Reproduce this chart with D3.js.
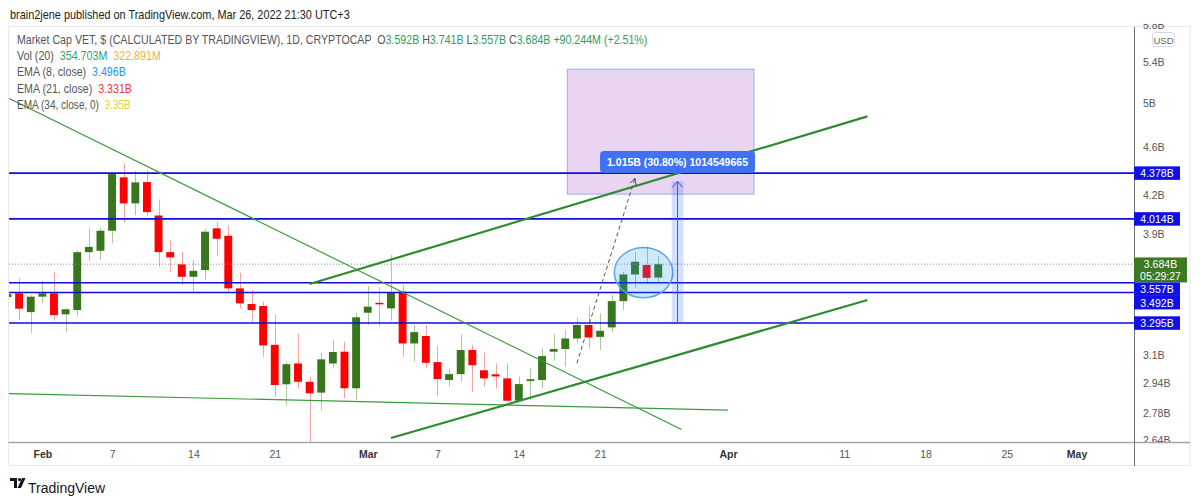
<!DOCTYPE html>
<html>
<head>
<meta charset="utf-8">
<script src="https://cdn.jsdelivr.net/npm/d3@7"></script>
<style>
  body { margin: 0; background: #fff; }
  svg { display: block; font-family: "Liberation Sans", "Noto Sans", sans-serif; }
  .legend text { white-space: pre; }
</style>
</head>
<body>
<div id="chart"></div>
<script>
// daily candles, Jan 29 .. Mar 26 2022 (values in billions)
const firstDay = "2022-01-29";
const opens  = [3.462, 3.486, 3.364, 3.464, 3.486, 3.350, 3.377, 3.769, 3.779, 3.925,
                4.343, 4.134, 4.304, 4.040, 3.769, 3.683, 3.597, 3.643, 3.943, 3.888,
                3.519, 3.416, 3.403, 3.162, 2.934, 3.052, 2.948, 2.888, 3.052, 3.121,
                2.912, 3.360, 3.424, 3.388, 3.497, 3.170, 3.215, 3.060, 2.958, 2.991,
                3.131, 3.013, 2.990, 2.967, 2.844, 2.952, 2.958, 3.121, 3.137, 3.200,
                3.283, 3.210, 3.268, 3.435, 3.613, 3.678, 3.592];
const highs  = [3.500, 3.588, 3.475, 3.570, 3.631, 3.390, 3.780, 3.943, 3.950, 4.378,
                4.459, 4.395, 4.403, 4.165, 3.856, 3.771, 3.713, 3.938, 3.992, 3.967,
                3.624, 3.508, 3.431, 3.345, 3.062, 3.231, 2.976, 3.115, 3.190, 3.180,
                3.360, 3.534, 3.525, 3.748, 3.541, 3.283, 3.283, 3.156, 3.023, 3.224,
                3.160, 3.115, 3.052, 3.052, 2.976, 3.023, 3.140, 3.226, 3.251, 3.331,
                3.403, 3.356, 3.475, 3.631, 3.771, 3.812, 3.741];
const lows   = [3.440, 3.314, 3.233, 3.420, 3.310, 3.241, 3.341, 3.706, 3.713, 3.832,
                3.984, 4.043, 4.035, 3.666, 3.631, 3.541, 3.490, 3.574, 3.741, 3.490,
                3.388, 3.303, 3.091, 2.866, 2.820, 2.912, 2.624, 2.794, 3.023, 2.857,
                2.848, 3.283, 3.276, 3.310, 3.091, 3.062, 3.023, 2.869, 2.921, 2.948,
                2.893, 2.921, 2.912, 2.838, 2.838, 2.848, 2.912, 3.068, 3.033, 3.170,
                3.140, 3.131, 3.241, 3.377, 3.519, 3.547, 3.557];
const closes = [3.481, 3.386, 3.464, 3.486, 3.345, 3.382, 3.769, 3.807, 3.925, 4.370,
                4.134, 4.302, 4.066, 3.769, 3.732, 3.597, 3.638, 3.918, 3.866, 3.519,
                3.420, 3.377, 3.158, 2.930, 3.048, 2.948, 2.884, 3.076, 3.119, 2.912,
                3.331, 3.399, 3.414, 3.490, 3.170, 3.239, 3.056, 2.963, 2.991, 3.131,
                3.042, 2.967, 2.978, 2.844, 2.935, 2.962, 3.095, 3.137, 3.200, 3.283,
                3.206, 3.247, 3.435, 3.613, 3.701, 3.590, 3.684];

// horizontal levels drawn on the chart
const levels = [4.378, 4.014, 3.557, 3.492, 3.295];
const lastPrice = 3.684;
const countdown = "05:29:27";

// trend lines [date, value] -> [date, value]
const trendFrom = [["2022-01-28", 5.106], ["2022-01-29", 2.883], ["2022-02-24", 3.548], ["2022-03-03", 2.650]];
const trendTo   = [["2022-03-28", 2.693], ["2022-04-01", 2.794], ["2022-04-13", 4.875], ["2022-04-13", 3.442]];

// drawings
const targetBox   = [["2022-03-18T04:20Z", 5.332], ["2022-04-03T05:45Z", 4.207]];
const ellipseBox  = [["2022-03-22T05:20Z", 3.803], ["2022-03-27T06:00Z", 3.457]];
const rangeBox    = [["2022-03-27T03:50Z", 3.295], ["2022-03-28T03:50Z", 4.310]];
const rangeLabel  = "1.015B (30.80%) 1014549665";
const projection  = [["2022-03-19", 3.054], ["2022-03-24", 4.337]];

// axes
const priceTicks = [5.8, 5.4, 5, 4.6, 4.2, 3.9, 3.1, 2.94, 2.78, 2.64];
const dateTicks  = ["2022-02-01", "2022-02-07", "2022-02-14", "2022-02-21", "2022-03-01", "2022-03-07",
                    "2022-03-14", "2022-03-21", "2022-04-01", "2022-04-11", "2022-04-18", "2022-04-25", "2022-05-01"];
const dateLabels = ["Feb", "7", "14", "21", "Mar", "7", "14", "21", "Apr", "11", "18", "25", "May"];

// legend text
const headerText = "brain2jene published on TradingView.com, Mar 26, 2022 21:30 UTC+3";
const titleText  = "Market Cap VET, $ (CALCULATED BY TRADINGVIEW), 1D, CRYPTOCAP";
const ohlcText   = ["3.592B", "3.741B", "3.557B", "3.684B"];
const changeText = "+90.244M (+2.51%)";
const volText    = ["354.703M", "322.891M"];
const emaNames   = ["EMA (8, close)", "EMA (21, close)", "EMA (34, close, 0)"];
const emaValues  = ["3.496B", "3.331B", "3.35B"];

const width = 1200, height = 499;
const plot = { left: 9, right: 1134, top: 27, bottom: 442 };

const up = "#38761d", down = "#ff0000";
const levelColor = "#0c0ce0";

const days = d3.utcDay.range(new Date(firstDay), d3.utcDay.offset(new Date(firstDay), opens.length));
const candles = days.map((d, i) => ({ date: d, o: opens[i], h: highs[i], l: lows[i], c: closes[i] }));

const x = d3.scaleUtc()
    .domain([new Date("2022-01-29T03:08Z"), new Date("2022-05-05T22:34Z")])
    .range([plot.left, plot.right]);
const y = d3.scaleLog()
    .domain([2.630, 5.775])
    .range([plot.bottom, plot.top]);

const dayW = x(days[1]) - x(days[0]);
const bodyW = dayW * 0.68;

const svg = d3.select("#chart").append("svg")
    .attr("width", width)
    .attr("height", height);

svg.append("rect").attr("width", width).attr("height", height).attr("fill", "#fff");

const defs = svg.append("defs");
defs.append("clipPath").attr("id", "plotclip")
  .append("rect")
    .attr("x", plot.left).attr("y", plot.top)
    .attr("width", plot.right - plot.left).attr("height", plot.bottom - plot.top);
defs.append("clipPath").attr("id", "axisclip")
  .append("rect")
    .attr("x", plot.right).attr("y", 24)
    .attr("width", 60).attr("height", plot.bottom - 24);

// frame
svg.append("rect")
    .attr("x", 8.5).attr("y", plot.top - 0.5)
    .attr("width", 1190 - 8.5).attr("height", 466 - plot.top)
    .attr("fill", "none").attr("stroke", "#e6e8ee");

const g = svg.append("g").attr("clip-path", "url(#plotclip)");

const P = p => [x(new Date(p[0])), y(p[1])];

// target rectangle
{
  const [a, b] = [P(targetBox[0]), P(targetBox[1])];
  g.append("rect")
      .attr("x", a[0]).attr("y", a[1])
      .attr("width", b[0] - a[0]).attr("height", b[1] - a[1])
      .attr("fill", "#e9d5f1").attr("stroke", "#8fb3ee").attr("stroke-width", 1);
}

// candles
g.selectAll(".wick").data(candles).join("line")
    .attr("class", "wick")
    .attr("x1", d => Math.round(x(d.date)) + 0.5)
    .attr("x2", d => Math.round(x(d.date)) + 0.5)
    .attr("y1", d => y(d.h))
    .attr("y2", d => y(d.l))
    .attr("stroke", d => d.c >= d.o ? "#a9cb9c" : "#f3a3a3")
    .attr("stroke-width", 1);

g.selectAll(".body").data(candles).join("rect")
    .attr("class", "body")
    .attr("x", d => x(d.date) - bodyW / 2)
    .attr("y", d => y(Math.max(d.o, d.c)))
    .attr("width", bodyW)
    .attr("height", d => Math.max(1.5, Math.abs(y(d.o) - y(d.c))))
    .attr("fill", d => d.c >= d.o ? up : down);

// last price dotted line
g.append("line")
    .attr("x1", plot.left).attr("x2", plot.right)
    .attr("y1", y(lastPrice)).attr("y2", y(lastPrice))
    .attr("stroke", "#8a8a8a").attr("stroke-width", 1).attr("stroke-dasharray", "1,2");

// horizontal levels
g.selectAll(".level").data(levels).join("line")
    .attr("class", "level")
    .attr("x1", plot.left).attr("x2", plot.right)
    .attr("y1", d => y(d)).attr("y2", d => y(d))
    .attr("stroke", levelColor).attr("stroke-width", 1.6);

// trend lines
const trendWidths = [1.2, 1.2, 2.2, 2.2];
const trendColors = ["#3c9a3c", "#3c9a3c", "#2e8b2e", "#2e8b2e"];
trendFrom.forEach((f, i) => {
  const a = P(f), b = P(trendTo[i]);
  g.append("line")
      .attr("x1", a[0]).attr("y1", a[1]).attr("x2", b[0]).attr("y2", b[1])
      .attr("stroke", trendColors[i]).attr("stroke-width", trendWidths[i]);
});

// ellipse
{
  const [a, b] = [P(ellipseBox[0]), P(ellipseBox[1])];
  g.append("ellipse")
      .attr("cx", (a[0] + b[0]) / 2).attr("cy", (a[1] + b[1]) / 2)
      .attr("rx", (b[0] - a[0]) / 2).attr("ry", (b[1] - a[1]) / 2)
      .attr("fill", "rgba(33,150,243,0.22)").attr("stroke", "#5aa6e8").attr("stroke-width", 1.5);
}

// projection dashed arrow
{
  const [a, b] = [P(projection[0]), P(projection[1])];
  g.append("line")
      .attr("x1", a[0]).attr("y1", a[1]).attr("x2", b[0]).attr("y2", b[1])
      .attr("stroke", "#555").attr("stroke-width", 1).attr("stroke-dasharray", "4,3");
  const ang = Math.atan2(b[1] - a[1], b[0] - a[0]);
  const L = 7, spread = 0.45;
  g.append("path")
      .attr("d", `M${b[0] - L * Math.cos(ang - spread)},${b[1] - L * Math.sin(ang - spread)}L${b[0]},${b[1]}L${b[0] - L * Math.cos(ang + spread)},${b[1] - L * Math.sin(ang + spread)}`)
      .attr("fill", "none").attr("stroke", "#555").attr("stroke-width", 1);
}

// price range tool
{
  const [a, b] = [P(rangeBox[0]), P(rangeBox[1])];
  const cx = (a[0] + b[0]) / 2;
  g.append("rect")
      .attr("x", a[0]).attr("y", b[1])
      .attr("width", b[0] - a[0]).attr("height", a[1] - b[1])
      .attr("fill", "rgba(41,98,255,0.2)");
  g.append("line")
      .attr("x1", cx).attr("x2", cx).attr("y1", a[1]).attr("y2", b[1])
      .attr("stroke", "#2962ff").attr("stroke-width", 1);
  g.append("path")
      .attr("d", `M${cx - 5},${b[1] + 6}L${cx},${b[1]}L${cx + 5},${b[1] + 6}`)
      .attr("fill", "none").attr("stroke", "#2962ff").attr("stroke-width", 1);

  const lbl = svg.append("g");
  const t = lbl.append("text")
      .attr("x", cx).attr("y", b[1] - 19.5)
      .attr("text-anchor", "middle").attr("dominant-baseline", "central")
      .attr("fill", "#fff").attr("font-size", 11.5).attr("font-weight", 600)
      .text(rangeLabel);
  const tw = t.node().getComputedTextLength();
  const bw = 155;
  t.attr("textLength", bw - 14).attr("lengthAdjust", "spacingAndGlyphs");
  lbl.insert("rect", "text")
      .attr("x", cx - bw / 2).attr("y", b[1] - 30.5)
      .attr("width", bw).attr("height", 22).attr("rx", 4)
      .attr("fill", "#3f72f2");
}

// axis lines
svg.append("line")
    .attr("x1", 8.5).attr("x2", 1190).attr("y1", plot.bottom + 0.5).attr("y2", plot.bottom + 0.5)
    .attr("stroke", "#a3a6ad").attr("stroke-width", 1.5);
svg.append("line")
    .attr("x1", plot.right + 0.5).attr("x2", plot.right + 0.5).attr("y1", plot.top).attr("y2", 466)
    .attr("stroke", "#6b6f78").attr("stroke-width", 1);

// price axis
const yAxis = svg.append("g")
    .attr("clip-path", "url(#axisclip)")
  .append("g")
    .attr("transform", `translate(${plot.right},0)`)
    .call(d3.axisRight(y).tickValues(priceTicks).tickFormat(d => d + "B").tickSize(0).tickPadding(9));
yAxis.select(".domain").remove();
yAxis.selectAll("text").attr("fill", "#555").attr("font-size", 10.5).attr("font-family", "Liberation Sans, sans-serif");

// USD badge
svg.append("rect")
    .attr("x", 1152.5).attr("y", 32.5).attr("width", 22).attr("height", 14).attr("rx", 3)
    .attr("fill", "#fff").attr("stroke", "#d6d8de");
svg.append("text")
    .attr("x", 1163.5).attr("y", 40).attr("text-anchor", "middle").attr("dominant-baseline", "central")
    .attr("font-size", 9.5).attr("fill", "#666").text("USD");

// price tags with simple overlap pushing
const tags = [{ v: lastPrice, lines: [lastPrice + "B", countdown], fill: "#3b7a23", w: 53 }]
  .concat(levels.map(v => ({ v, lines: [v.toFixed(3) + "B"], fill: "#1010e6", w: 46 })));
const tagH = 13.5;
tags.forEach(t => { t.top = y(t.v) - tagH / 2; t.h = tagH + (t.lines.length - 1) * 11.5; });
tags.sort((a, b) => a.top - b.top);
let prevBottom = -Infinity;
tags.forEach(t => { if (t.top < prevBottom) t.top = prevBottom; prevBottom = t.top + t.h; });

const tagG = svg.selectAll(".tag").data(tags).join("g").attr("class", "tag");
tagG.append("rect")
    .attr("x", plot.right).attr("y", d => d.top)
    .attr("width", d => d.w).attr("height", d => d.h)
    .attr("fill", d => d.fill);
tagG.each(function (d) {
  d3.select(this).selectAll("text").data(d.lines).join("text")
      .attr("x", plot.right + d.w / 2)
      .attr("y", (s, i) => d.top + tagH / 2 + i * 11.5)
      .attr("text-anchor", "middle").attr("dominant-baseline", "central")
      .attr("fill", "#fff").attr("font-size", 10.5)
      .text(s => s);
});

// time axis
const xAxis = svg.append("g")
    .attr("transform", `translate(0,${plot.bottom})`)
    .call(d3.axisBottom(x)
        .tickValues(dateTicks.map(d => new Date(d)))
        .tickFormat((d, i) => dateLabels[i])
        .tickSize(0).tickPadding(9));
xAxis.select(".domain").remove();
xAxis.selectAll("text")
    .attr("font-size", 10.5)
    .attr("fill", (d, i) => isNaN(+dateLabels[i]) ? "#333" : "#555")
    .attr("font-weight", (d, i) => isNaN(+dateLabels[i]) ? "bold" : "normal")
    .attr("font-family", "Liberation Sans, sans-serif");

// legend lines, stretched to the widths seen on the picture
function legendLine(x0, y0, target, parts, size) {
  const lg = svg.append("g").attr("class", "legend").attr("transform", `translate(${x0},${y0})`);
  const t = lg.append("text").attr("font-size", size).attr("dominant-baseline", "central");
  parts.forEach(p => t.append("tspan").attr("fill", p[1]).text(p[0]));
  const w = t.node().getComputedTextLength();
  lg.attr("transform", `translate(${x0},${y0}) scale(${target / w},1)`);
}
const gray = "#555", grn = "#2f9d63";
legendLine(10, 15, 340, [[headerText, "#222"]], 13);
legendLine(17, 40, 631, [
  [titleText + "  O", gray], [ohlcText[0], grn], [" H", gray], [ohlcText[1], grn],
  [" L", gray], [ohlcText[2], grn], [" C", gray], [ohlcText[3], grn], [" " + changeText, grn]
], 12);
legendLine(17, 56, 144, [["Vol (20)  ", gray], [volText[0], "#2aa37a"], ["  " + volText[1], "#f2b335"]], 12);
const emaColors = ["#2196f3", "#e53935", "#f2cf2a"];
const emaWidths = [109, 115, 114];
emaNames.forEach((n, i) => {
  legendLine(17, 72 + i * 16.3, emaWidths[i], [[n + "  ", gray], [emaValues[i], emaColors[i]]], 12);
});

// TradingView footer
const logo = svg.append("g").attr("transform", "translate(10,478)").attr("fill", "#131722");
logo.append("path").attr("d", "M0,0H7V10H4V3H0Z");
logo.append("circle").attr("cx", 9.5).attr("cy", 1.6).attr("r", 1.6);
logo.append("path").attr("d", "M12,0H15.5L11,10H7.5Z");
svg.append("text")
    .attr("x", 28).attr("y", 488).attr("font-size", 14).attr("fill", "#131722")
    .attr("dominant-baseline", "central").text("TradingView");
</script>
</body>
</html>
